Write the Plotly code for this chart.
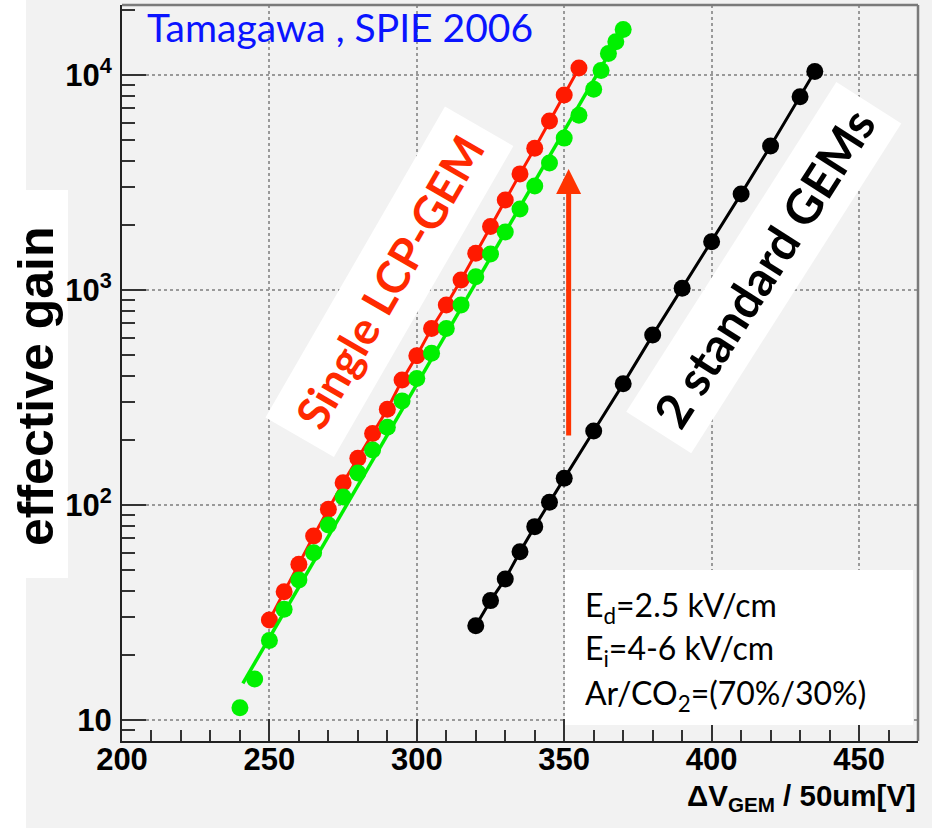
import plotly.graph_objects as go

# ---------------- data ----------------
red_x = [250, 255, 260, 265, 270, 275, 280, 285, 290, 295, 300, 305, 310, 315, 320,
         325, 330, 335, 340, 345, 350, 355]
red_y = [29.2, 39.5, 53, 71.8, 95.6, 127, 165, 215, 279, 381, 495, 663, 851, 1114, 1483,
         1973, 2625, 3470, 4570, 6110, 8070, 10790]

green_x = [240, 245, 250, 255, 260, 265, 270, 275, 280, 285, 290, 295, 300, 305, 310,
           315, 320, 325, 330, 335, 340, 345, 350, 355, 360, 362.5, 365, 367.5, 370]
green_y = [11.4, 15.5, 23.4, 32.7, 44.8, 60, 80.7, 109, 141, 180, 230, 305, 388, 508, 663,
           851, 1153, 1470, 1862, 2380, 3046, 3900, 5090, 6510, 8600, 10500, 12600, 14300, 16300]

green_fit_x = [241, 370]
green_fit_y = [14.8, 16300]

black_x = [320, 325, 330, 335, 340, 345, 350, 360, 370, 380, 390, 400, 410, 420, 430, 435]
black_y = [27.4, 35.9, 45.3, 60.6, 79.3, 103, 133, 221, 366, 617, 1019, 1678, 2800, 4680, 7930, 10380]

y_tickvals = [10, 100, 1000, 10000]
y_ticktext = ["10", "10<sup>2</sup>", "10<sup>3</sup>", "10<sup>4</sup>"]
x_tickvals = [200, 250, 300, 350, 400, 450]

arrow_x = 351.5
arrow_y_from = 2.316   # log10 units
arrow_y_to = 3.563

# ---------------- figure ----------------
W, H = 932, 828
L, R, T, B = 122, 14, 5, 87
pw, ph = W - L - R, H - T - B


def px2paper(x, y):
    return (x - L) / pw, (H - B - y) / ph


RED = "#ff1a00"
GREEN = "#00f000"

fig = go.Figure()

fig.add_trace(go.Scatter(x=red_x, y=red_y, mode="lines+markers",
                         line=dict(color=RED, width=3),
                         marker=dict(color=RED, size=17, line=dict(width=0)),
                         showlegend=False))
fig.add_trace(go.Scatter(x=green_x, y=green_y, mode="markers",
                         marker=dict(color=GREEN, size=17, line=dict(width=0)),
                         showlegend=False))
fig.add_trace(go.Scatter(x=green_fit_x, y=green_fit_y, mode="lines",
                         line=dict(color=GREEN, width=3.5), showlegend=False))
fig.add_trace(go.Scatter(x=black_x, y=black_y, mode="lines+markers",
                         line=dict(color="black", width=3),
                         marker=dict(color="black", size=17, line=dict(width=0)),
                         showlegend=False))

shapes = []
# white strips on the gray page
x0, y0 = px2paper(0, 0)
x1, y1 = px2paper(26, H)
shapes.append(dict(type="rect", xref="paper", yref="paper", x0=x0, x1=x1, y0=y1, y1=y0,
                   fillcolor="white", line=dict(width=0), layer="below"))
x0, y0 = px2paper(0, 190)
x1, y1 = px2paper(68, 578)
shapes.append(dict(type="rect", xref="paper", yref="paper", x0=x0, x1=x1, y0=y1, y1=y0,
                   fillcolor="white", line=dict(width=0), layer="below"))
# top / right frame (lighter, as in the original)
shapes.append(dict(type="line", xref="paper", yref="paper", x0=0, x1=1, y0=1, y1=1,
                   line=dict(color="#7a7a7a", width=2.5)))
shapes.append(dict(type="line", xref="paper", yref="paper", x0=1, x1=1, y0=0, y1=1,
                   line=dict(color="#7a7a7a", width=2.5)))
# info box
x0, y0 = px2paper(565, 570)
x1, y1 = px2paper(913, 725)
shapes.append(dict(type="rect", xref="paper", yref="paper", x0=x0, x1=x1, y0=y1, y1=y0,
                   fillcolor="white", line=dict(width=0), layer="above"))

annotations = []
# Title-like note
ax_, ay_ = px2paper(145, 27)
annotations.append(dict(xref="paper", yref="paper", x=ax_, y=ay_, xanchor="left", yanchor="middle",
                        text="Tamagawa , SPIE 2006", showarrow=False,
                        font=dict(family="Lato", size=39, color="#0a14ff")))
# rotated labels
cx, cy = px2paper(389, 281.5)
annotations.append(dict(xref="paper", yref="paper", x=cx, y=cy, xanchor="center", yanchor="middle",
                        text="<b>Single LCP-GEM</b>", showarrow=False, textangle=-60,
                        bgcolor="white", width=358, height=78, borderpad=0,
                        font=dict(family="Lato", size=45, color="#ff2a00")))
cx, cy = px2paper(763.5, 268)
annotations.append(dict(xref="paper", yref="paper", x=cx, y=cy, xanchor="center", yanchor="middle",
                        text="<b>2 standard GEMs</b>", showarrow=False, textangle=-57.5,
                        bgcolor="white", width=390, height=76, borderpad=0,
                        font=dict(family="Lato", size=48, color="black")))
# arrow
annotations.append(dict(x=arrow_x, y=arrow_y_to, ax=arrow_x, ay=arrow_y_from, xref="x", yref="y",
                        axref="x", ayref="y", text="", showarrow=True, arrowhead=2, arrowsize=1,
                        arrowwidth=5, arrowcolor="#ff3300"))
# info text
for txt, yy in [("E<sub>d</sub>=2.5 kV/cm", 607), ("E<sub>i</sub>=4-6 kV/cm", 650),
                ("Ar/CO<sub>2</sub>=(70%/30%)", 695)]:
    ax_, ay_ = px2paper(583, yy)
    annotations.append(dict(xref="paper", yref="paper", x=ax_, y=ay_, xanchor="left", yanchor="middle",
                            text=txt, showarrow=False,
                            font=dict(family="Lato", size=32, color="black")))
# axis titles
ax_, ay_ = px2paper(918, 797)
annotations.append(dict(xref="paper", yref="paper", x=ax_, y=ay_, xanchor="right", yanchor="middle",
                        text="<b>ΔV<sub>GEM</sub> / 50um[V]</b>", showarrow=False,
                        font=dict(family="Liberation Sans", size=29.5, color="black")))
ax_, ay_ = px2paper(36, 386)
annotations.append(dict(xref="paper", yref="paper", x=ax_, y=ay_, xanchor="center", yanchor="middle",
                        text="<b>effective gain</b>", showarrow=False, textangle=-90,
                        font=dict(family="Liberation Sans", size=50, color="black")))

axis_common = dict(showline=True, linecolor="#222222", linewidth=2, mirror=False,
                   ticks="inside", tickwidth=2, tickcolor="#333333",
                   showgrid=True, gridcolor="#9a9a9a", griddash="dot", gridwidth=1.5,
                   zeroline=False,
                   tickfont=dict(family="Liberation Sans", size=31, color="black"))

fig.update_layout(
    width=W, height=H,
    margin=dict(l=L, r=R, t=T, b=B),
    paper_bgcolor="#f2f2f2",
    plot_bgcolor="#f2f2f2",
    shapes=shapes,
    annotations=annotations,
    showlegend=False,
    xaxis=dict(range=[200, 470], tickvals=x_tickvals, ticklen=22,
               ticktext=["<b>%d</b>" % v for v in x_tickvals],
               minor=dict(ticks="inside", dtick=10, ticklen=11, tickwidth=1.5, tickcolor="#333333",
                          showgrid=False),
               ticklabelstandoff=-10,
               **axis_common),
    yaxis=dict(type="log", range=[0.902, 4.326], tickvals=y_tickvals,
               ticktext=["<b>%s</b>" % t for t in y_ticktext], ticklen=24,
               minor=dict(ticks="inside", dtick="D1", ticklen=13, tickwidth=1.5, tickcolor="#333333",
                          showgrid=False),
               ticklabelstandoff=2,
               **axis_common),
)

fig.write_html("out.html")
